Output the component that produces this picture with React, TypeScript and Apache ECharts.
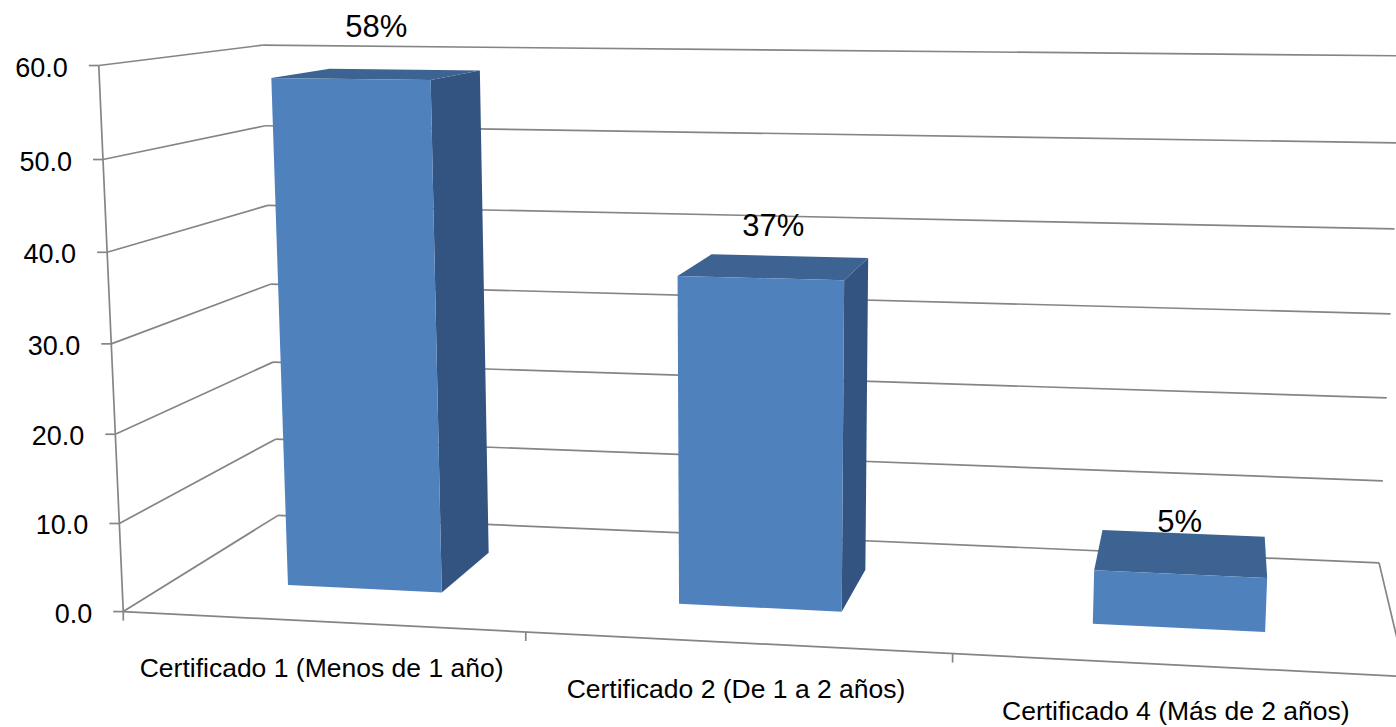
import { useEffect, useRef } from "react";
import * as echarts from "echarts";

// ---------- data ----------
const categories = [
  "Certificado 1 (Menos de 1 año)",
  "Certificado 2 (De 1 a 2 años)",
  "Certificado 4 (Más de 2 años)",
];
const values = [58, 37, 6];
const valueLabels = ["58%", "37%", "5%"];
const yTicks = [0, 10, 20, 30, 40, 50, 60];
const yTickLabels = ["0.0", "10.0", "20.0", "30.0", "40.0", "50.0", "60.0"];
const Y_MAX = 60;

// ---------- perspective camera (layout), fitted from corner positions ----------
// [X(0..1 across), Yn(0..1 up), Z(0 front .. 1 back), u, v]
const CAL: number[][] = [
  [0, 0, 0, 124, 611], [0, 10 / 60, 0, 120, 523], [0, 20 / 60, 0, 116, 434],
  [0, 50 / 60, 0, 102, 159], [0, 1, 0, 98, 66],
  [0, 0, 1, 277, 516], [0, 10 / 60, 1, 275, 439], [0, 50 / 60, 1, 267, 126], [0, 1, 1, 262, 45],
  [1, 0, 1, 1379, 562], [1, 10 / 60, 1, 1383, 481], [1, 20 / 60, 1, 1387, 398],
  [1, 30 / 60, 1, 1391, 314], [1, 40 / 60, 1, 1394, 229],
  [1 / 3, 0, 0, 526, 633], [2 / 3, 0, 0, 952, 654],
];
const CU = 698, CV = 363;

function solve(M: number[][], r: number[]): number[] {
  const n = r.length;
  const a = M.map((row, i) => [...row, r[i]]);
  for (let c = 0; c < n; c++) {
    let p = c;
    for (let i = c + 1; i < n; i++) if (Math.abs(a[i][c]) > Math.abs(a[p][c])) p = i;
    const t = a[c]; a[c] = a[p]; a[p] = t;
    for (let i = 0; i < n; i++) {
      if (i === c) continue;
      const f = a[i][c] / a[c][c];
      for (let k = c; k <= n; k++) a[i][k] -= f * a[c][k];
    }
  }
  return a.map((row, i) => row[n] / row[i]);
}

function fitCamera(): number[] {
  const rows: number[][] = [];
  const rhs: number[] = [];
  for (const [X, Y, Z, u0, v0] of CAL) {
    const u = (u0 - CU) / CU, v = (v0 - CV) / CV;
    rows.push([X, Y, Z, 1, 0, 0, 0, 0, -u * X, -u * Y, -u * Z]); rhs.push(u);
    rows.push([0, 0, 0, 0, X, Y, Z, 1, -v * X, -v * Y, -v * Z]); rhs.push(v);
  }
  const n = 11;
  const M = Array.from({ length: n }, () => new Array(n).fill(0));
  const r = new Array(n).fill(0);
  rows.forEach((row, k) => {
    for (let i = 0; i < n; i++) {
      r[i] += row[i] * rhs[k];
      for (let j = 0; j < n; j++) M[i][j] += row[i] * row[j];
    }
  });
  return solve(M, r);
}

const P = fitCamera();
function proj(X: number, Y: number, Z: number): number[] {
  const w = P[8] * X + P[9] * Y + P[10] * Z + 1;
  const u = (P[0] * X + P[1] * Y + P[2] * Z + P[3]) / w;
  const v = (P[4] * X + P[5] * Y + P[6] * Z + P[7]) / w;
  return [u * CU + CU, v * CV + CV];
}

const FONT = "'Liberation Sans', Arial, sans-serif";
const GRID_COLOR = "#858585";
const lineEl = (a: number[], b: number[]) => ({
  type: "line",
  shape: { x1: a[0], y1: a[1], x2: b[0], y2: b[1] },
  style: { stroke: GRID_COLOR, lineWidth: 1.7 },
  silent: true,
});

function area(pts: number[][]): number {
  let s = 0;
  for (let i = 0; i < pts.length; i++) {
    const a = pts[i], b = pts[(i + 1) % pts.length];
    s += a[0] * b[1] - b[0] * a[1];
  }
  return s;
}

export default function App() {
  const ref = useRef<HTMLDivElement>(null);
  useEffect(() => {
    if (!ref.current) return;
    const chart = echarts.init(ref.current, null, { renderer: "svg" });

    const norm = (params: any, api: any, cat: number, val: number) => {
      const cs = params.coordSys;
      const c = api.coord([cat, val]);
      return [(c[0] - cs.x) / cs.width, (cs.y + cs.height - c[1]) / cs.height];
    };

    const option: any = {
      animation: false,
      backgroundColor: "#ffffff",
      grid: { left: 0, top: 0, width: 600, height: 600, show: false },
      xAxis: { type: "category", data: categories, show: false },
      yAxis: { type: "value", min: 0, max: Y_MAX, interval: 10, show: false },
      series: [
        {
          // walls, gridlines, value axis
          type: "custom",
          clip: false,
          silent: true,
          data: yTicks.map((v) => [0, v]),
          renderItem: (params: any, api: any) => {
            const v = api.value(1);
            const [, yn] = norm(params, api, 0, v);
            const f = proj(0, yn, 0), b = proj(0, yn, 1), r = proj(1, yn, 1);
            const children: any[] = [
              lineEl(f, b),
              lineEl(b, r),
              lineEl([f[0] - 10, f[1]], f),
              {
                type: "text",
                silent: true,
                style: {
                  text: yTickLabels[params.dataIndex],
                  x: f[0] - 31, y: f[1] + 2,
                  align: "right", verticalAlign: "middle",
                  fontSize: 27, fontFamily: FONT, fill: "#000000",
                },
              },
            ];
            if (params.dataIndex === 0) {
              children.push(lineEl(proj(0, 0, 0), proj(0, 1, 0)));
              children.push(lineEl(proj(0, 0, 0), proj(1, 0, 0)));
              children.push(lineEl(proj(1, 0, 1), proj(1, 0, 0)));
            }
            return { type: "group", children };
          },
        },
        {
          // category ticks & labels
          type: "custom",
          clip: false,
          silent: true,
          data: categories.map((_, i) => [i, 0]),
          renderItem: (params: any, api: any) => {
            const cs = params.coordSys;
            const i = api.value(0);
            const [xn] = norm(params, api, i, 0);
            const bn = api.size([1, 0])[0] / cs.width;
            const t0 = proj(xn - bn / 2, 0, 0);
            const children: any[] = [lineEl(t0, [t0[0], t0[1] + 9])];
            if (params.dataIndex === categories.length - 1) {
              const t1 = proj(xn + bn / 2, 0, 0);
              children.push(lineEl(t1, [t1[0], t1[1] + 9]));
            }
            const c = proj(xn, 0, 0);
            children.push({
              type: "text",
              silent: true,
              style: {
                text: categories[i],
                x: c[0], y: c[1] + 46,
                align: "center", verticalAlign: "middle",
                fontSize: 26.5, fontFamily: FONT, fill: "#000000",
              },
            });
            return { type: "group", children };
          },
        },
        {
          // 3D columns
          type: "custom",
          clip: false,
          data: values.map((v, i) => [i, v]),
          renderItem: (params: any, api: any) => {
            const cs = params.coordSys;
            const i = api.value(0);
            const v = api.value(1);
            const [xn, yt] = norm(params, api, i, v);
            const bn = api.size([1, 0])[0] / cs.width;
            const hw = bn * 0.2;
            const x0 = xn - hw, x1 = xn + hw;
            const zf = 0.3, zb = 0.7;
            const A = proj(x0, 0, zf), B = proj(x1, 0, zf), C = proj(x1, yt, zf), D = proj(x0, yt, zf);
            const A2 = proj(x0, 0, zb), B2 = proj(x1, 0, zb), C2 = proj(x1, yt, zb), D2 = proj(x0, yt, zb);
            const front = [A, B, C, D];
            const s0 = Math.sign(area(front));
            const faces: { pts: number[][]; fill: string }[] = [
              { pts: [B, B2, C2, C], fill: "#335481" },
              { pts: [A2, A, D, D2], fill: "#3b6699" },
              { pts: [D, C, C2, D2], fill: "#3c6391" },
            ];
            const children: any[] = [];
            for (const fc of faces) {
              if (Math.sign(area(fc.pts)) === s0) {
                children.push({ type: "polygon", shape: { points: fc.pts }, style: { fill: fc.fill } });
              }
            }
            children.push({ type: "polygon", shape: { points: front }, style: { fill: "#4f81bd" } });
            const tc = proj(xn, yt, (zf + zb) / 2);
            const ft = proj(xn, yt, zf);
            children.push({
              type: "text",
              silent: true,
              style: {
                text: valueLabels[params.dataIndex],
                x: tc[0] - 2, y: ft[1] - 53,
                align: "center", verticalAlign: "middle",
                fontSize: 31, fontFamily: FONT, fill: "#000000",
              },
            });
            return { type: "group", children };
          },
        },
      ],
    };
    chart.setOption(option);
    return () => chart.dispose();
  }, []);

  return (
    <div
      ref={ref}
      style={{ position: "fixed", left: 0, top: 0, width: "1396px", height: "727px", background: "#fff" }}
    />
  );
}
